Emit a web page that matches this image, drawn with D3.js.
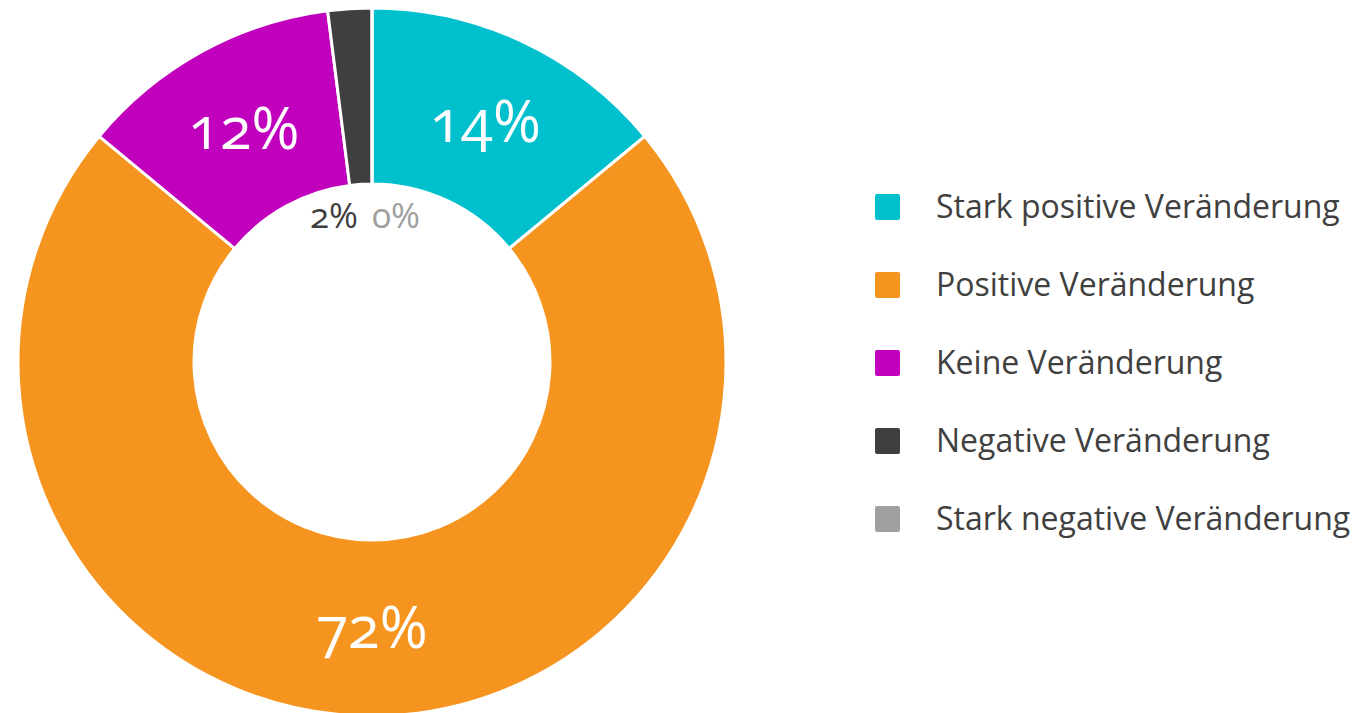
<!DOCTYPE html>
<html>
<head>
<meta charset="utf-8">
<script src="https://cdn.jsdelivr.net/npm/d3@7"></script>
<style>
  body { margin: 0; background: #fff; }
  text { font-family: "Open Sans", sans-serif; }
</style>
</head>
<body>
<svg id="chart" width="1359" height="713"></svg>
<script>
// categories and values (percent)
var categories = ["Stark positive Veränderung", "Positive Veränderung", "Keine Veränderung", "Negative Veränderung", "Stark negative Veränderung"];
var values = [14, 72, 12, 2, 0];
var colors = ["#00C0CE", "#F5951F", "#C000BC", "#3F3F42", "#A0A0A0"];

var w = 1359, h = 713;
var cx = 372, cy = 362;
var outerR = 354, innerR = 178;

var svg = d3.select("#chart");

var data = categories.map(function(c, i) { return { name: c, value: values[i], color: colors[i] }; });

var pie = d3.pie()
    .value(function(d) { return d.value; })
    .sort(null);

var arc = d3.arc()
    .innerRadius(innerR)
    .outerRadius(outerR);

var g = svg.append("g").attr("transform", "translate(" + cx + "," + cy + ")");

var arcs = pie(data);

g.selectAll("path")
  .data(arcs)
  .enter()
  .append("path")
    .attr("d", arc)
    .style("fill", function(d) { return d.data.color; })
    .style("stroke", "#fff")
    .style("stroke-width", 3);

// big labels at centroid for the larger slices
g.selectAll("text.big")
  .data(arcs.filter(function(d) { return d.data.value >= 5; }))
  .enter()
  .append("text")
    .attr("class", "big")
    .attr("transform", function(d) { return "translate(" + arc.centroid(d) + ")"; })
    .attr("text-anchor", "middle")
    .attr("dy", "0.35em")
    .style("font-size", "58px")
    .style("fill", "#fff")
    .style("font-variant-numeric", "oldstyle-nums")
    .text(function(d) { return d.data.value + "%"; });

// small labels just inside the hole for tiny slices
var small = arcs.filter(function(d) { return d.data.value < 5; });
g.selectAll("text.small")
  .data(small)
  .enter()
  .append("text")
    .attr("class", "small")
    .attr("x", function(d, i) { return i === 0 ? -38 : 24; })
    .attr("y", -146)
    .attr("text-anchor", "middle")
    .attr("dy", "0.35em")
    .style("font-size", "35px")
    .style("fill", function(d) { return d.data.color; })
    .style("font-variant-numeric", "oldstyle-nums")
    .text(function(d) { return d.data.value + "%"; });

// legend
var size = 25;
var legend = svg.selectAll("g.legend")
  .data(data)
  .enter()
  .append("g")
    .attr("class", "legend")
    .attr("transform", function(d, i) { return "translate(875," + (194 + i * 78) + ")"; });

legend.append("rect")
    .attr("width", size)
    .attr("height", size + 1)
    .attr("rx", 2)
    .style("fill", function(d) { return d.color; });

legend.append("text")
    .attr("x", 61)
    .attr("y", size / 2)
    .attr("dy", "0.35em")
    .style("font-size", "32px")
    .style("fill", "#404040")
    .text(function(d) { return d.name; });
</script>
</body>
</html>
